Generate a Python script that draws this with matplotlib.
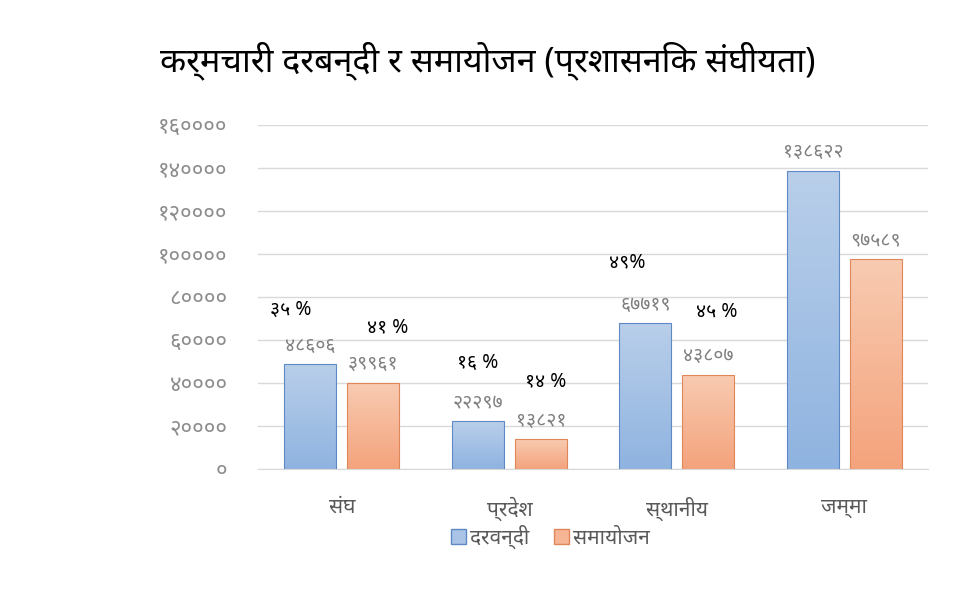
import numpy as np
import matplotlib
matplotlib.use("Agg")
import matplotlib.pyplot as plt
from matplotlib.patches import Patch

# data
categories = ["संघ", "प्रदेश", "स्थानीय", "जम्मा"]
darbandi = [48606, 22297, 67719, 138622]
samayojan = [39961, 13821, 43807, 97589]
pct_darbandi = ["३५ %", "१६ %", "४९%"]
pct_samayojan = ["४१ %", "१४ %", "४५ %"]
yticks = [0, 20000, 40000, 60000, 80000, 100000, 120000, 140000, 160000]

DEV = str.maketrans("0123456789", "०१२३४५६७८९")


def dev(n):
    return str(n).translate(DEV)


plt.rcParams["font.family"] = ["Noto Sans", "DejaVu Sans"]

fig = plt.figure(figsize=(9.74, 5.92), dpi=100, facecolor="white")
ax = fig.add_axes([0.265, 0.208, 0.688, 0.581])

x = np.arange(len(categories))
w = 0.31
gap = 0.066


def grad_bar(ax, xc, h, top, bottom, edge):
    b = ax.bar(xc, h, w, color="none", edgecolor=edge, linewidth=0.8, zorder=3)[0]
    grad = np.linspace(0, 1, 256).reshape(-1, 1)
    cmap = matplotlib.colors.LinearSegmentedColormap.from_list("g", [bottom, top])
    im = ax.imshow(grad, cmap=cmap, aspect="auto", origin="lower",
                   extent=[xc - w / 2, xc + w / 2, 0, h], zorder=2)
    im.set_clip_path(b)


for i in range(len(categories)):
    xb = x[i] - w / 2 - gap / 2
    xo = x[i] + w / 2 + gap / 2
    grad_bar(ax, xb, darbandi[i], "#b9cfea", "#8fb3e0", "#5d8ac4")
    grad_bar(ax, xo, samayojan[i], "#f8cbb2", "#f4a37c", "#e0875a")
    ax.text(xb, darbandi[i] + 4000, dev(darbandi[i]), ha="center", va="bottom",
            fontsize=14, color="#808080")
    ax.text(xo, samayojan[i] + 4000, dev(samayojan[i]), ha="center", va="bottom",
            fontsize=14, color="#808080")

# percentage notes, placed by hand above the bars
pct_offsets_b = [(-0.12, 25300), (0.0, 27000), (-0.107, 28500)]
pct_offsets_o = [(0.084, 26100), (0.03, 27100), (0.05, 29200)]
for i in range(3):
    dx, dy = pct_offsets_b[i]
    ax.text(x[i] - w / 2 - gap / 2 + dx, darbandi[i] + dy, pct_darbandi[i],
            ha="center", va="center", fontsize=14, color="black")
    dx, dy = pct_offsets_o[i]
    ax.text(x[i] + w / 2 + gap / 2 + dx, samayojan[i] + dy, pct_samayojan[i],
            ha="center", va="center", fontsize=14, color="black")

ax.set_xlim(-0.5, len(categories) - 0.5)
ax.set_ylim(0, 160000)
ax.set_yticks(yticks)
ax.set_yticklabels([dev(t) for t in yticks], fontsize=16, color="#8c8c8c")
ax.set_xticks(x)
ax.set_xticklabels(categories, fontsize=15, color="#595959")
ax.tick_params(axis="y", length=0, pad=22)
ax.tick_params(axis="x", length=0, pad=20)
ax.grid(axis="y", color="#d9d9d9", linewidth=1, zorder=0)
ax.set_axisbelow(True)
for s in ["top", "right", "left"]:
    ax.spines[s].set_visible(False)
ax.spines["bottom"].set_color("#d9d9d9")

handles = [Patch(facecolor="#a9c4e6", edgecolor="#5d8ac4", label="दरवन्दी"),
           Patch(facecolor="#f6b594", edgecolor="#e0875a", label="समायोजन")]
fig.legend(handles=handles, loc="center", bbox_to_anchor=(0.565, 0.093), ncol=2,
           frameon=False, fontsize=15, handlelength=0.7, handleheight=0.7,
           handletextpad=0.2, columnspacing=1.2, labelcolor="#595959")

fig.text(0.164, 0.898, "कर्मचारी दरबन्दी र समायोजन (प्रशासनिक संघीयता)",
         fontsize=24.5, color="black", ha="left", va="center")

fig.savefig("out.png", dpi=100, facecolor="white")
